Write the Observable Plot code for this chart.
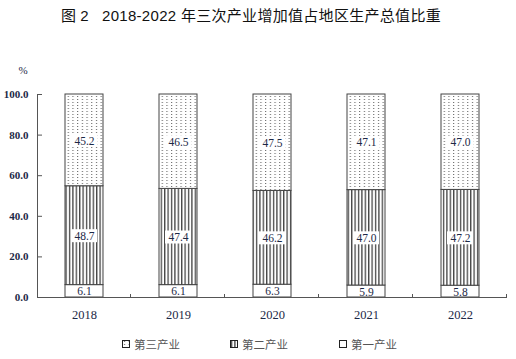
<!DOCTYPE html>
<html><head><meta charset="utf-8">
<script src="https://cdn.jsdelivr.net/npm/d3@7"></script>
<script src="https://cdn.jsdelivr.net/npm/@observablehq/plot@0.6"></script>
<style>
body{margin:0;background:#fff;width:516px;height:359px;overflow:hidden;position:relative;font-family:"Noto Sans CJK SC",sans-serif;}
.title{position:absolute;top:5px;font-size:15px;line-height:22px;color:#111;white-space:pre;font-family:"Liberation Sans","Noto Sans CJK SC",sans-serif;font-weight:normal;}
#chart{position:absolute;left:0;top:35px;}
.leg{position:absolute;top:336px;font-size:11.5px;line-height:16px;color:#555;display:flex;align-items:center;white-space:nowrap;}
.leg svg{margin-right:4px;}
</style></head><body>
<div id="t1" class="title" style="left:61px">图 2</div>
<div id="t2" class="title" style="left:102px;letter-spacing:0.3px">2018-2022 年三次产业增加值占地区生产总值比重</div>
<div id="chart"></div>
<div id="legend"></div>
<script>
const years = ["2018", "2019", "2020", "2021", "2022"];
const primary = [6.1, 6.1, 6.3, 5.9, 5.8];
const secondary = [48.7, 47.4, 46.2, 47.0, 47.2];
const tertiary = [45.2, 46.5, 47.5, 47.1, 47.0];
const sectors = ["第一产业", "第二产业", "第三产业"];
const legendOrder = ["第三产业", "第二产业", "第一产业"];
const yTicks = [0, 20, 40, 60, 80, 100];
const unitLabel = "%";

const fills = {"第一产业": "white", "第二产业": "url(#stripes)", "第三产业": "url(#dots)"};
const series = [primary, secondary, tertiary];
const rows = [];
years.forEach((yr, i) => {
  let acc = 0;
  series.forEach((s, k) => {
    const v = s[i];
    rows.push({year: yr, sector: sectors[k], value: v, y1: acc, y2: acc + v, mid: acc + v / 2});
    acc += v;
  });
});
const labelRows = rows.filter(d => d.sector !== "第一产业");

const textColor = "#1c2846";
const serif = "'Liberation Serif', 'Times New Roman', serif";

function axes(index, scales, values, dims) {
  const x = scales.x, y = scales.y;
  const g = d3.create("svg:g").attr("stroke", "#555").attr("fill", "none").attr("stroke-width", 1);
  g.append("line").attr("x1", dims.marginLeft + 0.5).attr("x2", dims.marginLeft + 0.5)
    .attr("y1", y(100)).attr("y2", y(0));
  const bw = typeof x.bandwidth === "function" ? x.bandwidth() : x.bandwidth;
  const step = typeof x.step === "function" ? x.step() : (x(years[1]) - x(years[0]));
  for (const yr of years) {
    const b = Math.round(x(yr) + bw + (step - bw) / 2) - 0.5;
    g.append("line").attr("x1", b).attr("x2", b).attr("y1", y(0)).attr("y2", y(0) - 3);
  }
  return g.node();
}

const plot = Plot.plot({
  width: 516,
  height: 290,
  marginLeft: 37,
  marginRight: 9,
  marginTop: 59,
  marginBottom: 28,
  style: {fontFamily: serif, color: textColor, background: "white", overflow: "visible"},
  x: {domain: years, paddingInner: 0.6, paddingOuter: 0.3, label: null},
  y: {domain: [0, 100], label: null},
  color: {domain: sectors, range: sectors.map(s => fills[s])},
  marks: [
    Plot.barY(rows, {x: "year", y1: "y1", y2: "y2", fill: "sector", stroke: "#444", strokeWidth: 1}),
    Plot.tickY(labelRows, {x: "year", y: "mid", stroke: "white", strokeWidth: 13, insetLeft: 6, insetRight: 6}),
    Plot.text(rows, {x: "year", y: "mid", text: d => d.value.toFixed(1), fontSize: 11.5, fontFamily: serif, fill: textColor, dy: 0.5}),
    Plot.ruleY([0], {stroke: "#555"}),
    Plot.axisY(yTicks, {tickSize: -5, tickPadding: 14, tickFormat: d => d.toFixed(1), fontSize: 11, fontFamily: serif, fontWeight: "bold", stroke: "#555", fill: textColor, label: null}),
    Plot.axisX({tickSize: 0, tickPadding: 13, fontSize: 12.5, fontFamily: serif, fill: textColor, label: null}),
    Plot.text([unitLabel], {frameAnchor: "top-left", text: d => d, dx: -19, dy: -28, fontSize: 11, fontFamily: serif, fill: textColor}),
    axes
  ]
});

const svg = d3.select(plot);
const defs = svg.insert("defs", ":first-child");
const st = defs.append("pattern").attr("id", "stripes").attr("patternUnits", "userSpaceOnUse")
  .attr("width", 3.4).attr("height", 4);
st.append("rect").attr("width", 3.4).attr("height", 4).attr("fill", "white");
st.append("rect").attr("x", 1).attr("width", 1.1).attr("height", 4).attr("fill", "#222");
const dt = defs.append("pattern").attr("id", "dots").attr("patternUnits", "userSpaceOnUse")
  .attr("width", 4.7).attr("height", 3);
dt.append("rect").attr("width", 4.7).attr("height", 3).attr("fill", "white");
dt.append("rect").attr("x", 2).attr("y", 1).attr("width", 1).attr("height", 1).attr("fill", "#555");
document.getElementById("chart").appendChild(plot);

const legPos = [122, 230, 339];
const legend = d3.select("#legend");
legendOrder.forEach((s, i) => {
  const item = legend.append("div").attr("class", "leg").style("left", legPos[i] + "px");
  const sw = item.append("svg").attr("width", 8).attr("height", 8);
  sw.append("rect").attr("x", 0.5).attr("y", 0.5).attr("width", 7).attr("height", 7)
    .attr("fill", fills[s]).attr("stroke", "#222");
  item.append("span").text(s);
});
</script>
</body></html>
